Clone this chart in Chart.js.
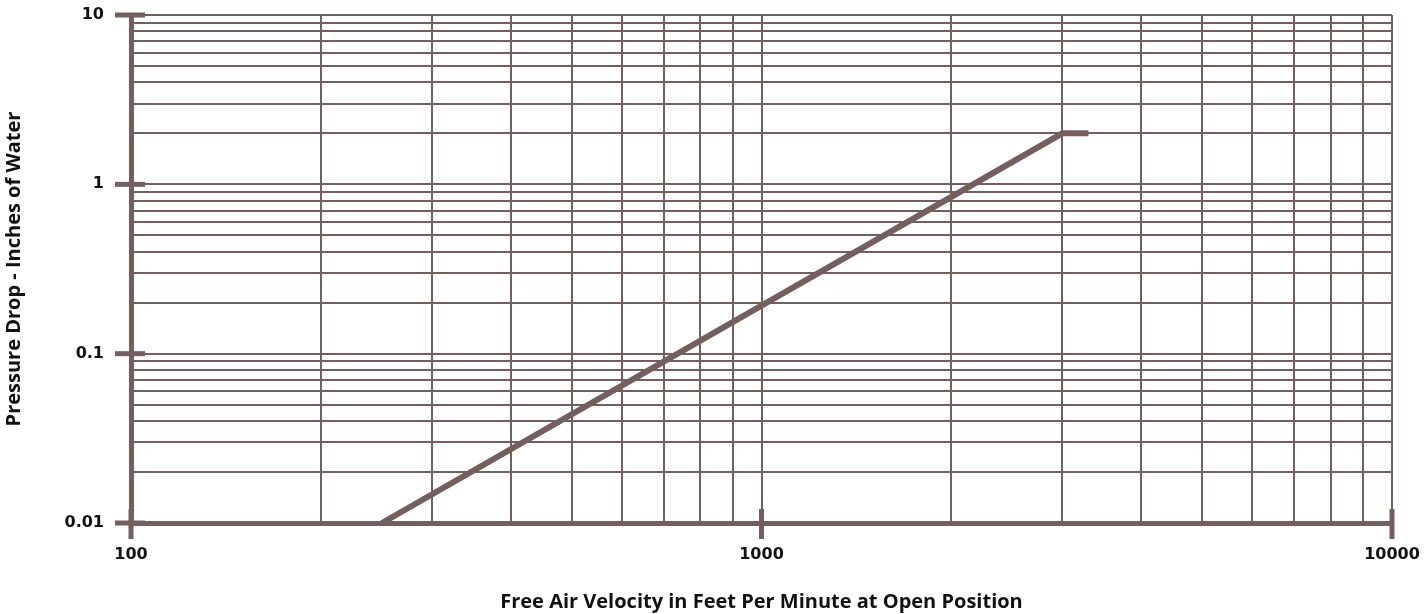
<!DOCTYPE html>
<html>
<head>
<meta charset="utf-8">
<script src="https://cdn.jsdelivr.net/npm/chart.js@4.4.1/dist/chart.umd.min.js"></script>
<style>
  html, body { margin: 0; padding: 0; background: #fff; }
  #wrap { width: 1425px; height: 614px; }
</style>
</head>
<body>
<div id="wrap"><canvas id="dropChart" width="1425" height="614"></canvas></div>
<script>
// Data
const velocity = [250, 3000, 3300];      // feet per minute
const pressure = [0.01, 2, 2];           // inches of water
const xDecades = [100, 1000, 10000];
const yDecades = [0.01, 0.1, 1, 10];
const minorSteps = [2, 3, 4, 5, 6, 7, 8, 9];
const xTitle = 'Free Air Velocity in Feet Per Minute at Open Position';

const lineColor = '#735f5e';

// decade values plus 2..9 multiples between them
function buildTicks(decades) {
    const out = [];
    decades.forEach((d, i) => {
        out.push({ value: d });
        if (i < decades.length - 1) {
            minorSteps.forEach(m => out.push({ value: d * m }));
        }
    });
    return out;
}

// heavy tick marks across the axes at each decade, and the x title
// (the original centres it under the 1000 mark, not the plot)
const decadeTicks = {
    id: 'decadeTicks',
    afterDraw(chart) {
        const ctx = chart.ctx;
        const area = chart.chartArea;
        const xs = chart.scales.x;
        const ys = chart.scales.y;
        ctx.save();
        ctx.fillStyle = lineColor;
        yDecades.forEach(v => {
            const py = ys.getPixelForValue(v);
            ctx.fillRect(area.left - 16, py - 2.5, 30, 5);
        });
        xDecades.forEach(v => {
            const px = xs.getPixelForValue(v);
            ctx.fillRect(px - 2.5, area.bottom - 14, 5, 30);
        });
        ctx.fillStyle = '#111';
        ctx.font = 'bold 20px "Open Sans"';
        ctx.textAlign = 'center';
        ctx.textBaseline = 'middle';
        ctx.fillText(xTitle, xs.getPixelForValue(xDecades[1]), xs.bottom - 12);
        ctx.restore();
    }
};

const ctx = document.getElementById('dropChart').getContext('2d');
new Chart(ctx, {
    type: 'line',
    data: {
        datasets: [{
            data: velocity.map((v, i) => ({ x: v, y: pressure[i] })),
            borderColor: lineColor,
            borderWidth: 6,
            borderCapStyle: 'butt',
            pointRadius: 0,
            tension: 0,
            fill: false
        }]
    },
    options: {
        responsive: false,
        animation: false,
        layout: { padding: { top: 15, right: 33, left: 0, bottom: 0 } },
        plugins: {
            legend: { display: false },
            tooltip: { enabled: false }
        },
        scales: {
            x: {
                type: 'logarithmic',
                min: 100,
                max: 10000,
                afterBuildTicks: s => { s.ticks = buildTicks(xDecades); },
                afterFit: s => { s.height = 91; s.paddingLeft = 0; s.paddingRight = 0; },
                ticks: {
                    autoSkip: false,
                    maxRotation: 0,
                    padding: 22,
                    color: '#111',
                    font: { family: 'DejaVu Sans', weight: 'bold', size: 16 },
                    callback: v => xDecades.includes(v) ? String(v) : ''
                },
                grid: { color: lineColor, lineWidth: 2, drawTicks: false },
                border: { display: true, color: lineColor, width: 5 }
            },
            y: {
                type: 'logarithmic',
                min: 0.01,
                max: 10,
                afterBuildTicks: s => { s.ticks = buildTicks(yDecades); },
                afterFit: s => { s.width = 131; s.paddingTop = 0; s.paddingBottom = 0; },
                ticks: {
                    autoSkip: false,
                    padding: 27,
                    color: '#111',
                    font: { family: 'DejaVu Sans', weight: 'bold', size: 16 },
                    callback: v => yDecades.includes(v) ? String(v) : ''
                },
                grid: { color: lineColor, lineWidth: 2, drawTicks: false },
                border: { display: true, color: lineColor, width: 5 },
                title: {
                    display: true,
                    text: 'Pressure Drop - Inches of Water',
                    color: '#111',
                    font: { family: 'Open Sans', weight: 'bold', size: 20 },
                    padding: { top: 2, bottom: 0 }
                }
            }
        }
    },
    plugins: [decadeTicks]
});
</script>
</body>
</html>
